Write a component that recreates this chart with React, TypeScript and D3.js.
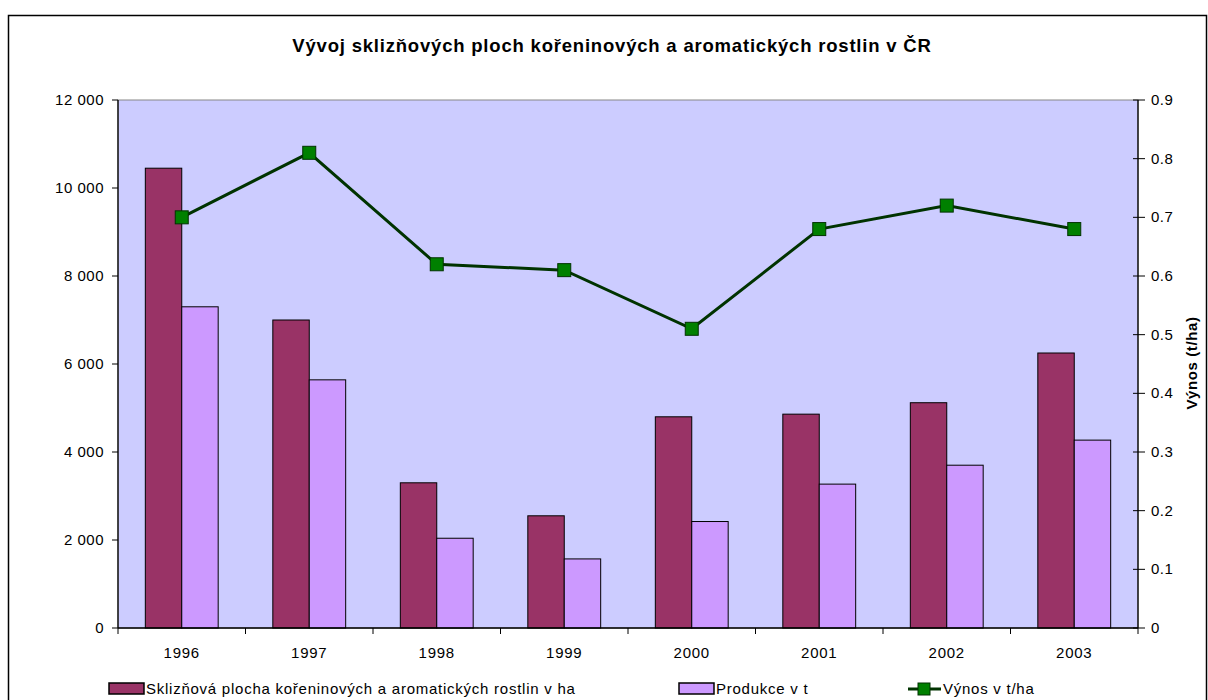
import React, { useRef, useEffect } from "react";
import * as d3 from "d3";

// data
const years = ["1996", "1997", "1998", "1999", "2000", "2001", "2002", "2003"];
const plocha = [10450, 7000, 3300, 2550, 4800, 4860, 5120, 6250];
const produkce = [7300, 5640, 2040, 1570, 2420, 3270, 3700, 4270];
const vynos = [0.70, 0.81, 0.62, 0.61, 0.51, 0.68, 0.72, 0.68];
const leftTicks = [0, 2000, 4000, 6000, 8000, 10000, 12000];
const rightTicks = [0, 0.1, 0.2, 0.3, 0.4, 0.5, 0.6, 0.7, 0.8, 0.9];

const title = "Vývoj sklizňových ploch kořeninových a aromatických rostlin v ČR";
const seriesNames = [
  "Sklizňová plocha kořeninových a aromatických rostlin v ha",
  "Produkce v t",
  "Výnos v t/ha",
];

const W = 1208;
const H = 700;
const FONT = "'Liberation Sans', Arial, sans-serif";
const LS = 0.75; // excel-ish wide letter spacing

export default function App() {
  const svgRef = useRef<SVGSVGElement | null>(null);

  useEffect(() => {
    const svg = d3.select(svgRef.current);
    svg.selectAll("*").remove();

    const left = 118, right = 1138, top = 100, bottom = 628;

    // scales
    const x = d3.scaleBand().domain(years).range([left, right]).padding(0);
    const yL = d3.scaleLinear().domain([0, 12000]).range([bottom, top]);
    const yR = d3.scaleLinear().domain([0, 0.9]).range([bottom, top]);

    const barW = x.bandwidth() / 3.5;

    // outer frame
    svg.append("rect")
      .attr("x", 8.5).attr("y", 15.5)
      .attr("width", 1198).attr("height", 700)
      .attr("fill", "#fff").attr("stroke", "#000").attr("stroke-width", 1.5);

    // plot background
    svg.append("rect")
      .attr("x", left).attr("y", top)
      .attr("width", right - left).attr("height", bottom - top)
      .attr("fill", "#CCCCFF").attr("stroke", "#888").attr("stroke-width", 1);

    // title
    svg.append("text")
      .attr("x", 612).attr("y", 52)
      .attr("text-anchor", "middle")
      .attr("font-family", FONT).attr("font-size", 18.5).attr("font-weight", "bold")
      .attr("letter-spacing", 0.8)
      .text(title);

    // bars
    const groups = svg.append("g");
    groups.selectAll("rect.p")
      .data(plocha)
      .enter().append("rect")
      .attr("x", (_, i) => (x(years[i]) as number) + x.bandwidth() / 2 - barW)
      .attr("y", (d) => yL(d))
      .attr("width", barW)
      .attr("height", (d) => bottom - yL(d))
      .attr("fill", "#993366").attr("stroke", "#000").attr("stroke-width", 1);

    groups.selectAll("rect.q")
      .data(produkce)
      .enter().append("rect")
      .attr("x", (_, i) => (x(years[i]) as number) + x.bandwidth() / 2)
      .attr("y", (d) => yL(d))
      .attr("width", barW)
      .attr("height", (d) => bottom - yL(d))
      .attr("fill", "#CC99FF").attr("stroke", "#000").attr("stroke-width", 1);

    // axes lines
    svg.append("line").attr("x1", left).attr("x2", left).attr("y1", top).attr("y2", bottom)
      .attr("stroke", "#000").attr("stroke-width", 1.3);
    svg.append("line").attr("x1", right).attr("x2", right).attr("y1", top).attr("y2", bottom)
      .attr("stroke", "#000").attr("stroke-width", 1.3);
    svg.append("line").attr("x1", left).attr("x2", right).attr("y1", bottom).attr("y2", bottom)
      .attr("stroke", "#000").attr("stroke-width", 1.3);

    // left ticks
    const fmt = (v: number) => d3.format(",")(v).replace(/,/g, " ");
    const lt = svg.append("g");
    lt.selectAll("line").data(leftTicks).enter().append("line")
      .attr("x1", left - 6).attr("x2", left).attr("y1", (d) => yL(d)).attr("y2", (d) => yL(d))
      .attr("stroke", "#000");
    lt.selectAll("text").data(leftTicks).enter().append("text")
      .attr("x", 104).attr("y", (d) => yL(d) + 5)
      .attr("text-anchor", "end")
      .attr("font-family", FONT).attr("font-size", 15).attr("letter-spacing", 0.5)
      .text((d) => fmt(d));

    // right ticks
    const rt = svg.append("g");
    rt.selectAll("line").data(rightTicks).enter().append("line")
      .attr("x1", right - 5).attr("x2", right + 7).attr("y1", (d) => yR(d)).attr("y2", (d) => yR(d))
      .attr("stroke", "#000");
    rt.selectAll("text").data(rightTicks).enter().append("text")
      .attr("x", 1151).attr("y", (d) => yR(d) + 5)
      .attr("font-family", FONT).attr("font-size", 15).attr("letter-spacing", 0.5)
      .text((d) => (d === 0 ? "0" : d3.format(".1f")(d)));

    svg.append("text")
      .attr("transform", "translate(1197,363) rotate(-90)")
      .attr("text-anchor", "middle")
      .attr("font-family", FONT).attr("font-size", 15).attr("font-weight", "bold")
      .attr("letter-spacing", 0.6)
      .text("Výnos (t/ha)");

    // x ticks and labels
    const bounds = years.map((y) => x(y) as number).concat([right]);
    svg.append("g").selectAll("line").data(bounds).enter().append("line")
      .attr("x1", (d) => d).attr("x2", (d) => d).attr("y1", bottom).attr("y2", bottom + 6)
      .attr("stroke", "#000");
    svg.append("g").selectAll("text").data(years).enter().append("text")
      .attr("x", (d) => (x(d) as number) + x.bandwidth() / 2)
      .attr("y", 658)
      .attr("text-anchor", "middle")
      .attr("font-family", FONT).attr("font-size", 15).attr("letter-spacing", LS)
      .text((d) => d);

    // line series
    const cx = (i: number) => (x(years[i]) as number) + x.bandwidth() / 2;
    const line = d3.line<number>().x((_, i) => cx(i)).y((d) => yR(d));
    svg.append("path")
      .datum(vynos)
      .attr("d", line)
      .attr("fill", "none").attr("stroke", "#003300").attr("stroke-width", 3);
    const ms = 13;
    svg.append("g").selectAll("rect").data(vynos).enter().append("rect")
      .attr("x", (_, i) => cx(i) - ms / 2).attr("y", (d) => yR(d) - ms / 2)
      .attr("width", ms).attr("height", ms)
      .attr("fill", "#008000").attr("stroke", "#003300").attr("stroke-width", 1);

    // legend
    const lg = svg.append("g").attr("font-family", FONT).attr("font-size", 15).attr("letter-spacing", LS);
    const ly = 689;
    lg.append("rect").attr("x", 109).attr("y", ly - 6).attr("width", 35).attr("height", 11)
      .attr("fill", "#993366").attr("stroke", "#000").attr("stroke-width", 1.5);
    lg.append("text").attr("x", 146).attr("y", ly + 5).text(seriesNames[0]);
    lg.append("rect").attr("x", 679).attr("y", ly - 6).attr("width", 35).attr("height", 11)
      .attr("fill", "#CC99FF").attr("stroke", "#000").attr("stroke-width", 1.5);
    lg.append("text").attr("x", 716).attr("y", ly + 5).text(seriesNames[1]);
    lg.append("line").attr("x1", 908).attr("x2", 941).attr("y1", ly).attr("y2", ly)
      .attr("stroke", "#003300").attr("stroke-width", 3);
    lg.append("rect").attr("x", 918).attr("y", ly - 6).attr("width", 12).attr("height", 12)
      .attr("fill", "#008000").attr("stroke", "#003300");
    lg.append("text").attr("x", 943).attr("y", ly + 5).text(seriesNames[2]);
  }, []);

  return (
    <svg
      ref={svgRef}
      width={W}
      height={H}
      style={{ position: "absolute", left: 0, top: 0, display: "block", background: "#fff" }}
    ></svg>
  );
}
